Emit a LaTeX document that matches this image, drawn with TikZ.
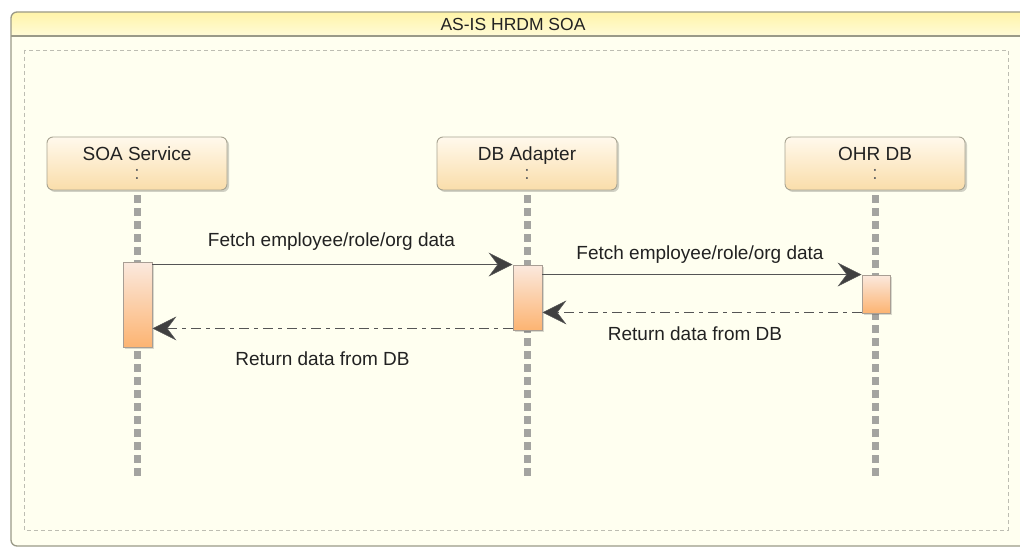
\documentclass[tikz,border=0pt]{standalone}
\usepackage{fontspec}
\setmainfont{Liberation Sans}
\usetikzlibrary{arrows.meta,shadows,calc}
\definecolor{bgivory}{HTML}{FFFFF0}
\definecolor{framegray}{HTML}{9A9A88}
\definecolor{titletop}{HTML}{FFF4A8}
\definecolor{titlebot}{HTML}{FFFBD8}
\definecolor{innergray}{HTML}{BDBDB2}
\definecolor{hdrborder}{HTML}{A8A492}
\definecolor{hdrtop}{HTML}{FFF9EC}
\definecolor{hdrbot}{HTML}{FADDAA}
\definecolor{actborder}{HTML}{A89E94}
\definecolor{acttop}{HTML}{FBE9DE}
\definecolor{actbot}{HTML}{FCB472}
\definecolor{lifegray}{HTML}{A4A4A0}
\definecolor{linegray}{HTML}{555555}
\definecolor{headgray}{HTML}{404040}
\definecolor{txt}{HTML}{222222}
\tikzset{
  hdrbox/.style={draw=hdrborder, line width=0.9pt, rounded corners=6pt,
    minimum width=180pt, minimum height=53pt, inner sep=0pt,
    top color=hdrtop, bottom color=hdrbot,
    drop shadow={shadow xshift=2pt, shadow yshift=-2pt, opacity=0.18, fill=black}},
  hdrtext/.style={font=\fontsize{19}{22}\selectfont, text=txt, inner sep=0pt, anchor=base},
  colontext/.style={font=\fontsize{19}{22}\selectfont, text=black!60, inner sep=0pt},
  actbox/.style={draw=actborder, line width=0.9pt, inner sep=0pt,
    top color=acttop, bottom color=actbot,
    drop shadow={shadow xshift=2pt, shadow yshift=-2pt, opacity=0.15, fill=black}},
  lifeline/.style={draw=lifegray, line width=7pt, dash pattern=on 8pt off 5pt},
  msg/.style={draw=linegray, line width=1.3pt,
    -{Stealth[length=24pt,width=24pt,inset=9pt,fill=headgray,line width=0.5pt]}},
  retmsg/.style={msg, dash pattern=on 10pt off 5pt on 4pt off 5pt},
  lbl/.style={font=\fontsize{19}{22}\selectfont, text=txt, inner sep=0pt, anchor=base}
}
\begin{document}
\begin{tikzpicture}[x=1pt,y=-1pt]
\useasboundingbox (0,0) rectangle (1020,548);
\fill[white] (0,0) rectangle (1020,548);
% outer frame
\fill[bgivory, rounded corners=6pt] (11,12) rectangle (1040,546);
\begin{scope}
  \clip[rounded corners=6pt] (11,12) rectangle (1040,560);
  \shade[top color=titletop, bottom color=titlebot] (11,12) rectangle (1040,36);
\end{scope}
\draw[framegray, line width=1.3pt, rounded corners=6pt] (1040,12) -- (11,12) -- (11,546) -- (1040,546);
\draw[framegray, line width=1.1pt] (11,36) -- (1040,36);
\node[font=\fontsize{17.5}{20}\selectfont, text=txt, inner sep=0pt] (title) at (513,24) {AS-IS HRDM SOA};
% inner dashed area
\draw[innergray, line width=0.8pt, dash pattern=on 4pt off 3pt] (24,50) rectangle (1008,530);

% lifeline heads
\node[hdrbox] (h1) at (137,163.5) {};
\node[hdrbox] (h2) at (527,163.5) {};
\node[hdrbox] (h3) at (875,163.5) {};
\node[hdrtext] (t1) at ([yshift=-24pt]h1.north) {SOA Service};
\node[hdrtext] (t2) at ([yshift=-24pt]h2.north) {DB Adapter};
\node[hdrtext] (t3) at ([yshift=-24pt]h3.north) {OHR DB};
\node[colontext] (c1) at ([yshift=-38pt]h1.north) {:};
\node[colontext] (c2) at ([yshift=-38pt]h2.north) {:};
\node[colontext] (c3) at ([yshift=-38pt]h3.north) {:};

% lifelines
\coordinate (e1) at (137.5,478);
\coordinate (e2) at (527.5,478);
\coordinate (e3) at (875.5,478);
\draw[lifeline] ([yshift=-5pt]h1.south -| e1) -- (e1);
\draw[lifeline] ([yshift=-5pt]h2.south -| e2) -- (e2);
\draw[lifeline] ([yshift=-5pt]h3.south -| e3) -- (e3);

% activations
\node[actbox, minimum width=29pt, minimum height=85pt] (a1) at (137.5,304.5) {};
\node[actbox, minimum width=29pt, minimum height=65pt] (a2) at (527.5,297.5) {};
\node[actbox, minimum width=28pt, minimum height=38pt] (a3) at (876,294) {};

% messages
\draw[msg] (a1.east |- a2.north) -- node[lbl, yshift=18pt, xshift=-1pt] (l1) {Fetch employee/role/org data} (a2.north west);
\draw[msg] (a2.east |- a3.north) -- node[lbl, yshift=15pt, xshift=-2pt] (l2) {Fetch employee/role/org data} (a3.north west);
\draw[retmsg] ($(a3.south west)+(0,-1)$) -- node[lbl, yshift=-28pt, xshift=-7pt] (l3) {Return data from DB} ($(a2.east |- a3.south)+(0,-1)$);
\draw[retmsg] ($(a2.south west)+(0,-2)$) -- node[lbl, yshift=-37pt, xshift=-10pt] (l4) {Return data from DB} ($(a1.east |- a2.south)+(0,-2)$);
\end{tikzpicture}
\end{document}
